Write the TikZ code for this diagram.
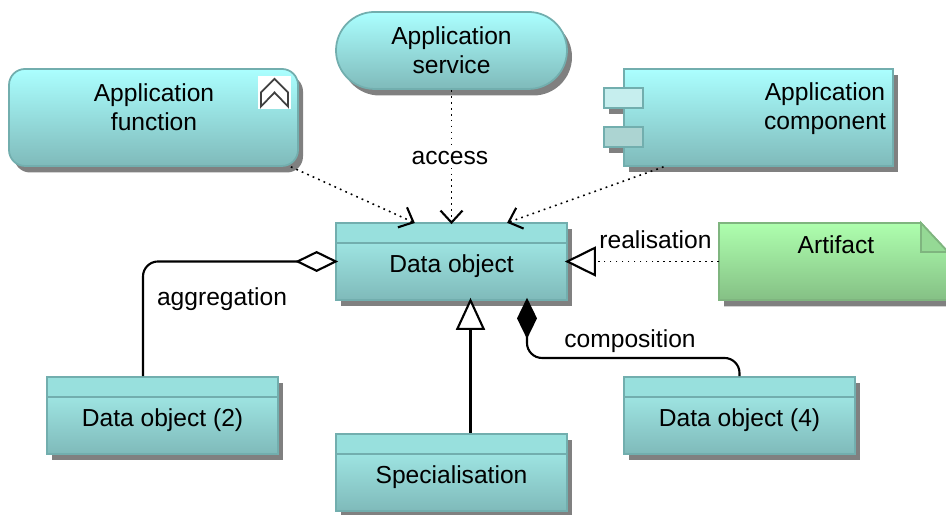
\documentclass[tikz,border=0pt]{standalone}
\usepackage{fontspec}
\setmainfont{Liberation Sans}
\usetikzlibrary{arrows.meta,shadows}

\definecolor{appedge}{HTML}{72AEAE}
\definecolor{apptop}{HTML}{ABFFFF}
\definecolor{appbottom}{HTML}{7FBABA}
\definecolor{headfill}{HTML}{98E0DD}
\definecolor{bodytop}{HTML}{A8F2EF}
\definecolor{arttop}{HTML}{AEFFAE}
\definecolor{artbottom}{HTML}{85C085}
\definecolor{artedge}{HTML}{7FB57F}
\definecolor{tabone}{HTML}{C6EEEE}
\definecolor{tabtwo}{HTML}{ACD4D2}

\tikzset{
    plainshadow/.style={drop shadow={shadow xshift=0.05cm,shadow yshift=-0.065cm,opacity=1,fill=gray}},
    flatbox/.style={draw=appedge,line width=0.5pt,inner sep=0pt,align=center,font=\fontsize{7}{8.25}\selectfont},
    appbox/.style={flatbox,top color=apptop,bottom color=appbottom,plainshadow},
    tabbox/.style={flatbox,minimum width=0.39cm,minimum height=0.2cm},
    dataobject/.style={appbox,top color=bodytop,minimum width=2.31cm,minimum height=0.77cm,text height=0.23cm,text depth=0pt,
        path picture={
            \fill[headfill] (path picture bounding box.north west) rectangle ([yshift=-0.2cm]path picture bounding box.north east);
            \draw[appedge,line width=0.5pt] ([yshift=-0.2cm]path picture bounding box.north west) -- ([yshift=-0.2cm]path picture bounding box.north east);
        }},
    boxtext/.style={align=center,inner sep=0pt,font=\fontsize{7}{8.25}\selectfont},
    linktext/.style={boxtext,fill=white,inner xsep=1pt,inner ysep=1pt},
    accessline/.style={line width=0.45pt,dash pattern=on 0.5pt off 1.2pt,shorten >=-0.02cm,-{Straight Barb[length=0.12cm,width=0.22cm,line width=0.6pt]}},
    realiseline/.style={line width=0.45pt,dash pattern=on 0.5pt off 1.2pt,shorten >=-0.03cm,-{Triangle[open,fill=white,length=0.31cm,width=0.3cm,line width=0.6pt]}},
    solidline/.style={line width=0.6pt},
    bentline/.style={solidline,rounded corners=0.15cm},
}

\begin{document}
\begin{tikzpicture}

        \useasboundingbox (0,0) rectangle (9.46,5.15);

        \node[appbox,rounded corners=0.16cm,minimum width=2.89cm,minimum height=0.97cm] (appfunction) at (1.535,3.975) {};
        \node[boxtext] (appfunctiontext) at (1.54,4.08) {Application\\function};
        \node[fill=white,inner sep=0pt,minimum size=0.33cm] (funcicon) at (2.745,4.225) {};
        \draw[black!75,line width=0.5pt] ([xshift=-0.135cm,yshift=-0.14cm]funcicon.center) -- ([xshift=-0.135cm]funcicon.center) -- ([yshift=0.135cm]funcicon.center) -- ([xshift=0.135cm]funcicon.center) -- ([xshift=0.135cm,yshift=-0.14cm]funcicon.center) -- (funcicon.center) -- cycle;

        \node[appbox,rounded corners=0.385cm,minimum width=2.31cm,minimum height=0.77cm] (appservice) at (4.515,4.645) {Application\\service};

        \node[tabbox,plainshadow] (tabshadowone) at (6.235,4.17) {};
        \node[tabbox,plainshadow] (tabshadowtwo) at (6.235,3.78) {};
        \node[appbox,minimum width=2.69cm,minimum height=0.97cm] (appcomponent) at (7.585,3.975) {};
        \node[tabbox,fill=tabone] (comptabone) at (6.235,4.17) {};
        \node[tabbox,fill=tabtwo] (comptabtwo) at (6.235,3.78) {};
        \node[boxtext] (appcomponenttext) at (8.25,4.06) {Application\\component};

        \node[dataobject] (dataobj) at (4.515,2.535) {Data object};
        \node[dataobject] (dataobjtwo) at (1.625,0.995) {Data object (2)};
        \node[dataobject] (special) at (4.515,0.425) {Specialisation};
        \node[dataobject] (dataobjfour) at (7.395,0.995) {Data object (4)};

        \draw[draw=artedge,line width=0.5pt,top color=arttop,bottom color=artbottom,plainshadow] (7.19,2.92) -- (9.21,2.92) -- (9.48,2.63) -- (9.48,2.15) -- (7.19,2.15) -- cycle;
        \draw[draw=artedge,line width=0.5pt,fill=artbottom!60!arttop] (9.21,2.92) -- (9.48,2.63) -- (9.21,2.63) -- cycle;
        \node[boxtext] (artifacttext) at (8.36,2.70) {Artifact};
        \coordinate (artifact) at (7.19,2.535);

        \draw[accessline] ([xshift=-0.08cm]appfunction.south east) -- ([xshift=-0.385cm]dataobj.north);
        \draw[accessline] (appservice.south) -- (dataobj.north);
        \draw[accessline] ([xshift=-0.95cm]appcomponent.south) -- ([xshift=0.575cm]dataobj.north);
        \draw[realiseline] (artifact) -- (dataobj.east);

        \draw[bentline,shorten <=-0.03cm,{Diamond[open,fill=white,length=0.43cm,width=0.21cm,line width=0.6pt]}-] (dataobj.west) -| ([xshift=-0.195cm]dataobjtwo.north);
        \draw[solidline,shorten >=-0.03cm,-{Triangle[open,fill=white,length=0.32cm,width=0.29cm,line width=0.6pt]}] ([xshift=0.19cm]special.north) -- ([xshift=0.19cm]dataobj.south);
        \draw[bentline,shorten <=-0.03cm,{Diamond[fill=black,length=0.41cm,width=0.2cm]}-] ([xshift=0.755cm]dataobj.south) |- (7.395,1.57) -- (dataobjfour.north);

        \node[linktext] (accesslabel) at (4.50,3.57) {access};
        \node[boxtext] (realiselabel) at (6.555,2.75) {realisation};
        \node[boxtext] (aggrlabel) at (2.22,2.155) {aggregation};
        \node[boxtext] (complabel) at (6.30,1.74) {composition};

    \end{tikzpicture}
\end{document}
